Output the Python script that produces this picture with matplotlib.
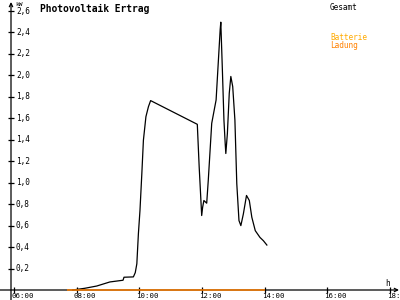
import matplotlib
matplotlib.use("Agg")
import matplotlib.pyplot as plt

# Gesamt (kW) over the day, time in hours
gesamt_t = [7.87, 8.26, 8.64, 9.06, 9.48, 9.51, 9.81, 9.87, 9.92, 9.97, 10.02, 10.08,
            10.13, 10.21, 10.29, 10.36, 11.85, 11.91, 11.99, 12.02, 12.06, 12.15, 12.20,
            12.31, 12.37, 12.45, 12.58, 12.60, 12.65, 12.70, 12.74, 12.76, 12.81, 12.87,
            12.92, 12.98, 13.05, 13.11, 13.18, 13.24, 13.32, 13.42, 13.51, 13.59, 13.70,
            13.85, 13.96, 14.07]
gesamt_kw = [0.0, 0.016, 0.037, 0.075, 0.091, 0.119, 0.122, 0.162, 0.244, 0.525, 0.74, 1.087,
             1.396, 1.615, 1.708, 1.765, 1.544, 1.146, 0.694, 0.771, 0.834, 0.809, 1.022,
             1.553, 1.647, 1.771, 2.427, 2.496, 2.053, 1.584, 1.366, 1.272, 1.459, 1.834,
             1.99, 1.896, 1.584, 0.991, 0.647, 0.6, 0.709, 0.881, 0.834, 0.678, 0.553,
             0.49, 0.459, 0.419]

# Batterie Ladung (kW)
ladung_t = [7.69, 14.02]
ladung_kw = [0.0, 0.0]

x_ticks = [6, 8, 10, 12, 14, 16, 18]
x_labels = ["06:00", "08:00", "10:00", "12:00", "14:00", "16:00", "18:00"]
y_ticks = [0.2, 0.4, 0.6, 0.8, 1.0, 1.2, 1.4, 1.6, 1.8, 2.0, 2.2, 2.4, 2.6]
y_labels = ["0,2", "0,4", "0,6", "0,8", "1,0", "1,2", "1,4", "1,6", "1,8", "2,0", "2,2", "2,4", "2,6"]

W, H = 400, 300
fig = plt.figure(figsize=(4, 3), dpi=100)
fig.patch.set_facecolor("white")
ax = fig.add_axes([11 / W, 10 / H, (390 - 11) / W, (290 - 11) / H])
ax.set_xlim(5.904, 18)
ax.set_ylim(0, 2.6)
ax.axis("off")

mono = "DejaVu Sans Mono"
orange = "#ff8000"
gold = "#ffaa00"

# axes with arrows (figure pixel coordinates, origin bottom-left)
arrow = dict(arrowstyle="->", color="black", lw=0.9, shrinkA=0, shrinkB=0,
             mutation_scale=6)
ax.annotate("", xy=(399, 10), xytext=(0, 10), xycoords="figure pixels",
            textcoords="figure pixels", arrowprops=arrow, annotation_clip=False)
ax.annotate("", xy=(11, 298), xytext=(11, 0), xycoords="figure pixels",
            textcoords="figure pixels", arrowprops=arrow, annotation_clip=False)

# tick marks and labels
for t, lab in zip(x_ticks, x_labels):
    ax.plot([t], [0], marker="|", ms=4.5, mew=0.9, color="black", clip_on=False, zorder=4)
    ax.annotate(lab, xy=(t, 0), xytext=(-3, -3), textcoords="offset pixels",
                ha="left", va="top", fontsize=5.3, family=mono, color="black",
                annotation_clip=False)
ytrans = ax.get_yaxis_transform()
for v, lab in zip(y_ticks, y_labels):
    ax.plot([0], [v], marker="_", ms=4.5, mew=0.9, color="black", clip_on=False,
            transform=ytrans)
    ax.annotate(lab, xy=(0, v), xycoords=ytrans, xytext=(5, 0), textcoords="offset pixels",
                ha="left", va="center", fontsize=5.6, family=mono, color="black",
                annotation_clip=False)

# series
ax.plot(gesamt_t, gesamt_kw, color="black", lw=0.9, clip_on=False, zorder=3)
ax.plot(ladung_t, ladung_kw, color=orange, lw=1.1, clip_on=False,
        solid_capstyle="butt", zorder=6)

# texts
fig.text(40 / W, 1 - 9 / H, "Photovoltaik Ertrag", fontsize=6.9, family=mono,
         weight="bold", ha="left", va="center")
fig.text(15 / W, 1 - 5 / H, "kW", fontsize=4.5, family=mono, ha="left", va="center")
fig.text(385 / W, 1 - 284 / H, "h", fontsize=5.6, family=mono, ha="left", va="center")
fig.text(330 / W, 1 - 7 / H, "Gesamt", fontsize=5.6, family=mono, color="black",
         ha="left", va="center")
fig.text(330 / W, 1 - 37 / H, "Batterie", fontsize=5.6, family=mono, color=gold,
         ha="left", va="center")
fig.text(330 / W, 1 - 45 / H, "Ladung", fontsize=5.6, family=mono, color=orange,
         ha="left", va="center")

fig.savefig("out.png", dpi=100, facecolor="white")
